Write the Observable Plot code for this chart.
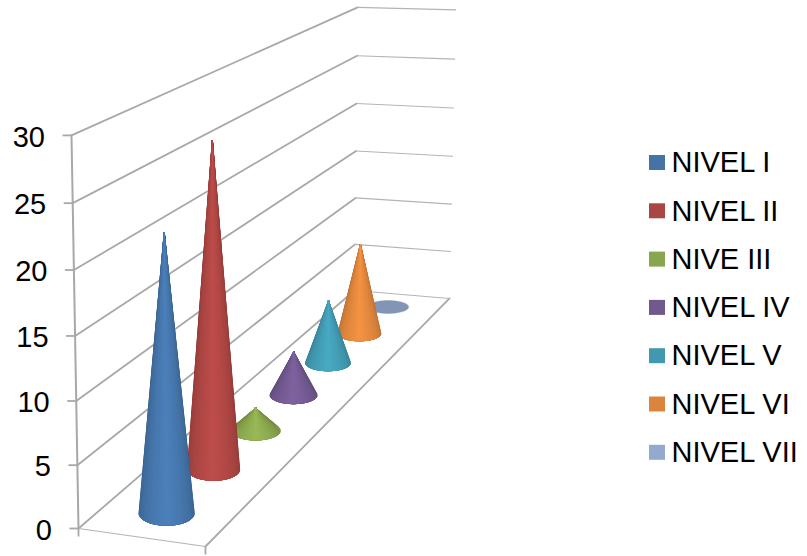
<!DOCTYPE html>
<html>
<head>
<meta charset="utf-8">
<style>
  html, body { margin: 0; background: #fff; }
  svg { display: block; }
</style>
<script src="https://cdn.jsdelivr.net/npm/d3@7"></script>
<script src="https://cdn.jsdelivr.net/npm/@observablehq/plot@0.6"></script>
</head>
<body>
<script>
const niveles = ["NIVEL I", "NIVEL II", "NIVE III", "NIVEL IV", "NIVEL V", "NIVEL VI", "NIVEL VII"];
const valores = [22, 27, 2, 4, 6, 9, 0];
const colores = ["#4573A7", "#AA4643", "#89A54E", "#71588F", "#4198AF", "#DB843D", "#93A9CF"];
const ticksValor = [0, 5, 10, 15, 20, 25, 30];

// Camera: homogeneous projection of (a along the front edge, d in depth, v value).
const vMax = 30;
function proyecta(a, d, v) {
  const t = v / vMax;
  const w = 1 - 0.0272 * a + 0.4067 * d - 0.04 * t;
  return {
    x: (121.4 * a + 420 * d + 78 - 9.84 * t) / w,
    y: (3.15 * a - 120.1 * d + 528 - 398.5 * t) / w,
    w
  };
}

// Walls and floor
const rejilla = [];
ticksValor.forEach(v => {
  rejilla.push({id: "izq" + v, ...proyecta(0, 0, v)}, {id: "izq" + v, ...proyecta(0, 1, v)});
});
const fondo = [];
ticksValor.forEach(v => {
  fondo.push({id: "der" + v, ...proyecta(0, 1, v)}, {id: "der" + v, ...proyecta(1, 1, v)});
});
const bordeSuelo = [proyecta(1, 0, 0), proyecta(1, 1, 0)];
const ejeValor = ticksValor.map(v => ({v, ...proyecta(0, 0, v)}));
const pieEje = [proyecta(0, 0, 0), proyecta(1, 0, 0)];

// Each cone is an underlay in the edge colour plus nested shells of its front half,
// each narrower and lighter than the last.
const radio = 28, fondoRadio = 0.036, pasos = 48;
const capas = [];
d3.range(niveles.length - 1, -1, -1).forEach(i => {
  const d = (i + 0.5) / niveles.length;
  const c = proyecta(0.5, d, 0);
  const rx = radio / c.w;
  const ry = (proyecta(0.5, d - fondoRadio, 0).y - proyecta(0.5, d + fondoRadio, 0).y) / 2;
  const punta = proyecta(0.5, d, valores[i]);
  const base = d3.color(colores[i]);
  const oscuro = base.darker(0.42).formatHex();
  const claro = base.brighter(0.32).formatHex();
  const borde = θ => ({x: c.x + rx * Math.cos(θ), y: c.y + ry * Math.sin(θ)});
  if (valores[i] === 0) {
    d3.range(pasos).forEach(k => {
      const p = borde(2 * Math.PI * k / pasos);
      capas.push({id: `${i}-base`, x: p.x, y: p.y, fill: base.darker(0.35).formatHex()});
    });
    return;
  }
  d3.range(pasos).forEach(k => {
    const id = `${i}-u${k}`;
    [punta, borde(2 * Math.PI * k / pasos), borde(2 * Math.PI * (k + 1) / pasos)]
      .forEach(p => capas.push({id, x: p.x, y: p.y, fill: oscuro}));
  });
  d3.range(1, 25).forEach(s => {
    const u = s / 24;
    const limite = (Math.PI / 2) * (1 - u);
    const id = `${i}-s${s}`;
    const fill = d3.interpolateRgb(oscuro, claro)(Math.pow(u, 0.8));
    capas.push({id, x: punta.x, y: punta.y, fill});
    d3.range(25).forEach(k => {
      const p = borde(Math.PI / 2 - limite + (2 * limite) * k / 24);
      capas.push({id, x: p.x, y: p.y, fill});
    });
  });
});

// Legend rows at the right of the chart
const leyenda = niveles.map((nombre, i) => ({
  nombre, color: colores[i], y: 162.5 + i * 48.3
}));

const grafico = Plot.plot({
  width: 807, height: 556,
  margin: 0,
  x: {domain: [0, 807], range: [0, 807], axis: null},
  y: {domain: [0, 556], range: [0, 556], axis: null},
  color: {type: "identity"},
  style: {background: "#fff", fontFamily: "Liberation Sans, Arial, sans-serif"},
  marks: [
    Plot.line(rejilla, {x: "x", y: "y", z: "id", stroke: "#a8a8a8", strokeWidth: 1.8}),
    Plot.line(fondo, {x: "x", y: "y", z: "id", stroke: "#b4b4b4", strokeWidth: 1.1}),
    Plot.line(bordeSuelo, {x: "x", y: "y", stroke: "#a8a8a8", strokeWidth: 1.8}),
    Plot.line(pieEje, {x: "x", y: "y", stroke: "#b4b4b4", strokeWidth: 1.1}),
    Plot.line(ejeValor, {x: "x", y: "y", stroke: "#a8a8a8", strokeWidth: 2}),
    Plot.link(ejeValor, {x1: d => d.x - 9, x2: "x", y1: "y", y2: "y", stroke: "#a8a8a8", strokeWidth: 1.8}),
    Plot.link(pieEje, {x1: "x", x2: "x", y1: "y", y2: d => d.y + 8, stroke: "#a8a8a8", strokeWidth: 1.8}),
    Plot.line(capas, {x: "x", y: "y", z: "id", fill: "fill", stroke: "fill", strokeWidth: 0.4, curve: "linear-closed"}),
    Plot.text(ejeValor, {x: d => d.x - 26.5, y: d => d.y + 2, text: "v", textAnchor: "end", fontSize: 29, fill: "#000"}),
    Plot.rect(leyenda, {x1: () => 649, x2: () => 665, y1: d => d.y - 7.5, y2: d => d.y + 7.5, fill: "color"}),
    Plot.text(leyenda, {x: () => 671, y: d => d.y, text: "nombre", textAnchor: "start", fontSize: 29, fill: "#000"})
  ]
});
document.body.appendChild(grafico);
</script>
</body>
</html>
